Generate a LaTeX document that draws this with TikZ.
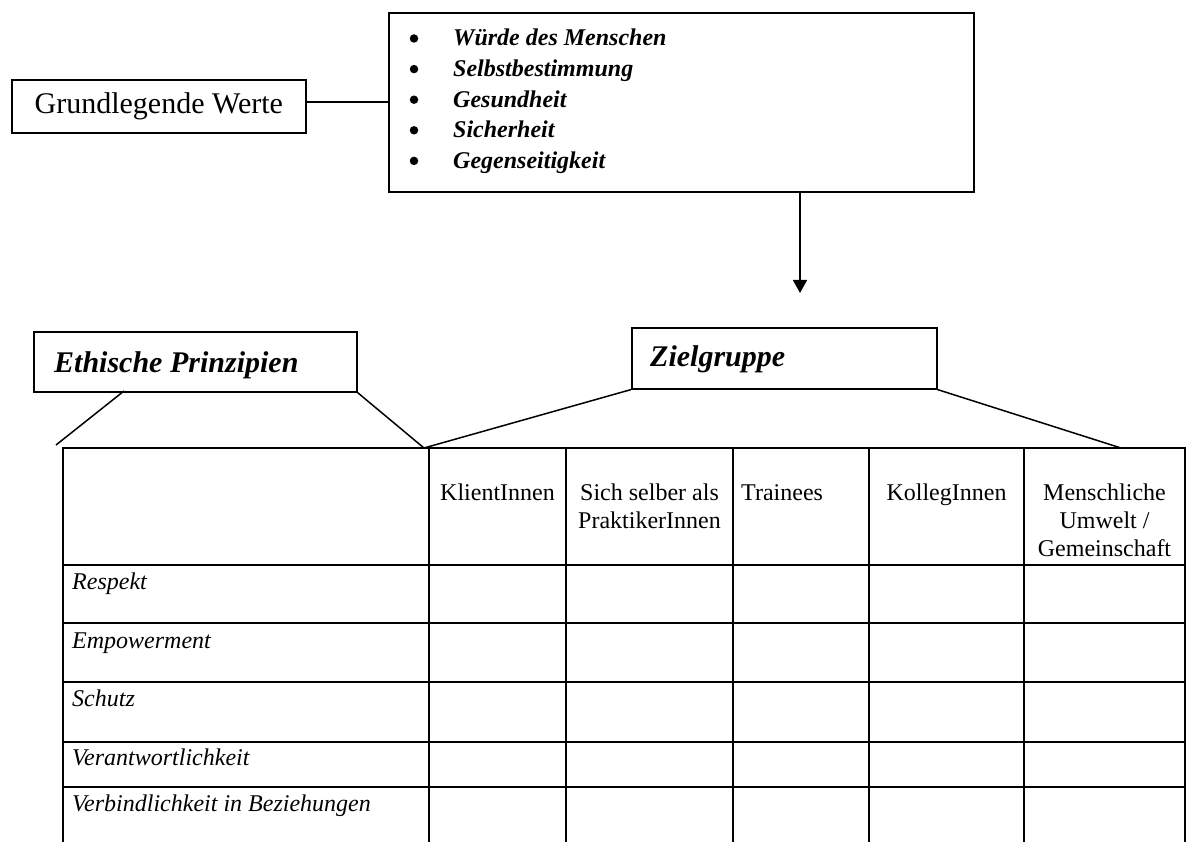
\documentclass[tikz,border=0pt]{standalone}
\usepackage{fontspec}
\setmainfont{Liberation Serif}
\usetikzlibrary{arrows.meta}
\tikzset{
  boxed/.style={draw, line width=1.6pt, inner sep=0pt},
  big/.style={font=\fontsize{30}{34}\selectfont},
  bigbi/.style={font=\fontsize{30}{34}\selectfont\bfseries\itshape, anchor=base west, inner sep=0pt},
  valtxt/.style={font=\fontsize{24}{28}\selectfont\bfseries\itshape, anchor=base west, inner sep=0pt},
  bul/.style={circle, fill=black, inner sep=0pt, minimum size=8.5pt},
  cell/.style={font=\fontsize{24}{28}\selectfont, anchor=base, inner sep=0pt},
  rowlab/.style={font=\fontsize{24}{28}\selectfont\itshape, anchor=base west, inner sep=0pt},
  grid/.style={line width=2pt},
  thin/.style={line width=1.5pt},
}
\begin{document}
\begin{tikzpicture}[x=1pt,y=-1pt]
\useasboundingbox[fill=white] (0,0) rectangle (1194,842);

% Grundlegende Werte
\node[boxed, big, minimum width=294, minimum height=53, anchor=north west] (gw) at (11,79) {Grundlegende Werte};

% values box
\node[boxed, minimum width=585, minimum height=179, anchor=north west] (vals) at (388,12) {};
\foreach \t [count=\i] in {Würde des Menschen, Selbstbestimmung, Gesundheit, Sicherheit, Gegenseitigkeit}{
  \node[bul] (b\i) at (414,{38.5+30.6*(\i-1)}) {};
  \node[valtxt] (v\i) at (453,{46+30.6*(\i-1)}) {\t};
}
\draw[thin] (gw.east |- 0,102) -- (vals.west |- 0,102);

% arrow
\coordinate (arrS) at (800,191);
\coordinate (arrE) at (800,293);
\draw[line width=1.6pt, -{Triangle[width=14pt,length=13pt]}] (arrS) -- (arrE);

% Ethische Prinzipien
\node[boxed, minimum width=323, minimum height=60, anchor=north west] (eth) at (33,331) {};
\node[bigbi] (ethT) at (54,372) {Ethische Prinzipien};
% Zielgruppe
\node[boxed, minimum width=305, minimum height=61, anchor=north west] (ziel) at (631,327) {};
\node[bigbi] (zielT) at (650,366) {Zielgruppe};

% diagonals
\coordinate (e1) at (124,391);
\coordinate (d1) at (56,445);
\coordinate (d2) at (424,448);
\coordinate (d3) at (1121,448);
\draw[thin] (e1) -- (d1);
\draw[thin] (eth.south east) -- (d2);
\draw[thin] (ziel.south west) -- (d2);
\draw[thin] (ziel.south east) -- (d3);

% table grid
\foreach \yy in {448,565,623,682,742,787}{
  \draw[grid] (62,\yy) -- (1186,\yy);
}
\foreach \xx in {63,429,566,733,869,1024,1185}{
  \draw[grid] (\xx,447) -- (\xx,842);
}

% header texts
\node[cell] (h1) at (497.5,500) {KlientInnen};
\node[cell] (h2a) at (649.5,500) {Sich selber als};
\node[cell] (h2b) at (649.5,528) {PraktikerInnen};
\node[cell, anchor=base west] (h3) at (741,500) {Trainees};
\node[cell] (h4) at (946.5,500) {KollegInnen};
\node[cell] (h5a) at (1104.5,500) {Menschliche};
\node[cell] (h5b) at (1104.5,528) {Umwelt /};
\node[cell] (h5c) at (1104.5,556) {Gemeinschaft};

% row labels
\node[rowlab] (r1) at (72,589) {Respekt};
\node[rowlab] (r2) at (72,648) {Empowerment};
\node[rowlab] (r3) at (72,706) {Schutz};
\node[rowlab] (r4) at (72,765) {Verantwortlichkeit};
\node[rowlab] (r5) at (72,811) {Verbindlichkeit in Beziehungen};
\end{tikzpicture}
\end{document}
